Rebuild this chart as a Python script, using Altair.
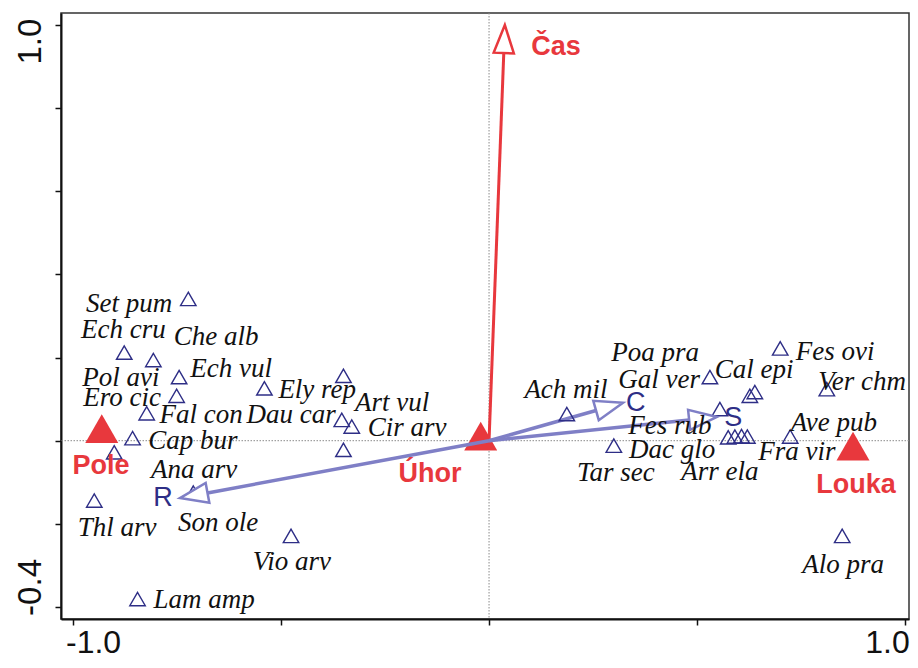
import altair as alt
import pandas as pd
import numpy as np

# ---------------- data ----------------
# species scores (open navy triangles)
species_x = [-0.723, -0.877, -0.807, -0.745, -0.751, -0.823, -0.857, -0.901, -0.949,
             -0.711, -0.476, -0.845, -0.540, -0.350, -0.354, -0.330, -0.350,
             0.187, 0.300, 0.531, 0.627, 0.639, 0.555, 0.575, 0.591, 0.607, 0.621,
             0.700, 0.812, 0.724, 0.849]
species_y = [0.341, 0.212, 0.194, 0.153, 0.108, 0.066, 0.006, -0.028, -0.144,
             -0.125, -0.229, -0.381, 0.126, 0.156, 0.050, 0.034, -0.022,
             0.064, -0.012, 0.153, 0.108, 0.117, 0.076, 0.008, 0.010, 0.011, 0.010,
             0.222, 0.124, 0.010, -0.229]

# species labels and where they sit (data units)
label_names = ["Set pum", "Ech cru", "Che alb", "Ech vul", "Pol avi", "Ero cic", "Fal con",
               "Dau car", "Ely rep", "Art vul", "Cir arv", "Cap bur", "Ana arv", "Thl arv",
               "Son ole", "Vio arv", "Lam amp",
               "Ach mil", "Poa pra", "Gal ver", "Cal epi", "Fes ovi", "Ver chm", "Fes rub",
               "Dac glo", "Tar sec", "Arr ela", "Ave pub", "Fra vir", "Alo pra"]
label_x = [-0.865, -0.879, -0.656, -0.620, -0.885, -0.882, -0.692,
           -0.476, -0.413, -0.233, -0.197, -0.712, -0.709, -0.894,
           -0.651, -0.474, -0.685,
           0.185, 0.399, 0.409, 0.637, 0.832, 0.897, 0.435,
           0.440, 0.305, 0.555, 0.829, 0.740, 0.851]
label_y = [0.329, 0.266, 0.249, 0.173, 0.151, 0.103, 0.062,
           0.062, 0.122, 0.091, 0.031, -0.001, -0.070, -0.210,
           -0.198, -0.292, -0.383,
           0.122, 0.211, 0.146, 0.170, 0.213, 0.141, 0.035,
           -0.022, -0.078, -0.075, 0.043, -0.027, -0.299]

# centroids of the nominal variable (filled red triangles)
centroid_names = ["Pole", "Úhor", "Louka"]
centroid_x = [-0.931, -0.020, 0.875]
centroid_y = [0.029, 0.011, -0.013]
centroid_label_x = [-0.933, -0.142, 0.882]
centroid_label_y = [-0.061, -0.080, -0.107]

# environmental variable arrow (red)
env_names = ["Čas"]
env_x = [0.038]
env_y = [1.000]
env_label_x = [0.161]
env_label_y = [0.948]

# supplementary arrows (blue)
covar_names = ["C", "S", "R"]
covar_x = [0.322, 0.548, -0.743]
covar_y = [0.091, 0.057, -0.138]
covar_label_x = [0.353, 0.587, -0.784]
covar_label_y = [0.091, 0.055, -0.138]

x_ticks = [-1.0, -0.5, 0.0, 0.5, 1.0]
y_ticks = [-0.4, -0.2, 0.0, 0.2, 0.4, 0.6, 0.8, 1.0]

# ---------------- styling / layout ----------------
RED = "#E8383D"
BLUE = "#7F7FC6"
NAVY = "#2E2E86"
XDOM = [-1.029, 1.0096]
YDOM = [-0.429, 1.029]
W, H = 848, 606
HEAD_LEN = 28
HEAD_PATH = "M0,0L-2,-0.72L-2,0.72Z"

xaxis = alt.Axis(
    values=x_ticks, grid=False, title=None,
    labelExpr="datum.value < -0.9 ? '-1.0' : datum.value > 0.9 ? '1.0' : ''",
    domainColor="#111", domainWidth=2, tickColor="#111", tickWidth=1.5, tickSize=6,
    labelFont="Liberation Sans", labelFontSize=32, labelColor="#111", labelPadding=2,
    labelOverlap=False, labelFlush=False, labelBound=False, labelAlign="center",
    labelOffset={"condition": {"test": "datum.value < 0", "value": 20}, "value": -18},
)
yaxis = alt.Axis(
    values=y_ticks, grid=False, title=None,
    labelExpr="datum.value > 0.9 ? '1.0' : datum.value < -0.39 ? '-0.4' : ''",
    domainColor="#111", domainWidth=2, tickColor="#111", tickWidth=1.5, tickSize=6,
    labelFont="Liberation Sans", labelFontSize=33, labelColor="#111", labelPadding=8,
    labelOverlap=False, labelFlush=False, labelBound=False, labelAngle=270,
    labelAlign="center", labelBaseline="bottom",
    labelOffset={"condition": {"test": "datum.value > 0.5", "value": 16}, "value": -20},
)


def X(field):
    return alt.X(f"{field}:Q", scale=alt.Scale(domain=XDOM, nice=False, zero=False), axis=xaxis)


def Y(field):
    return alt.Y(f"{field}:Q", scale=alt.Scale(domain=YDOM, nice=False, zero=False), axis=yaxis)


def arrow_frame(names, xs, ys, lxs, lys):
    kx = W / (XDOM[1] - XDOM[0])
    ky = H / (YDOM[1] - YDOM[0])
    tx, ty = np.array(xs), np.array(ys)
    sx, sy = tx * kx, -ty * ky
    L = np.hypot(sx, sy)
    bx = (sx - sx / L * HEAD_LEN) / kx
    by = -(sy - sy / L * HEAD_LEN) / ky
    ang = np.degrees(np.arctan2(sy, sx)) % 360
    return pd.DataFrame({"name": names, "x": tx, "y": ty, "x0": 0.0, "y0": 0.0,
                         "bx": bx, "by": by, "angle": ang, "lx": lxs, "ly": lys})


species_df = pd.DataFrame({"x": species_x, "y": species_y})
labels_df = pd.DataFrame({"name": label_names, "x": label_x, "y": label_y})
centroid_df = pd.DataFrame({"name": centroid_names, "x": centroid_x, "y": centroid_y,
                            "lx": centroid_label_x, "ly": centroid_label_y})
env_df = arrow_frame(env_names, env_x, env_y, env_label_x, env_label_y)
cov_df = arrow_frame(covar_names, covar_x, covar_y, covar_label_x, covar_label_y)
ref_df = pd.DataFrame({"v": [0.0]})

vline = alt.Chart(ref_df).mark_rule(color="#8a8a8a", strokeWidth=1, strokeDash=[1.5, 1.5]).encode(x=X("v"))
hline = alt.Chart(ref_df).mark_rule(color="#8a8a8a", strokeWidth=1, strokeDash=[1.5, 1.5]).encode(y=Y("v"))

centroids = alt.Chart(centroid_df).mark_point(
    shape="triangle-up", filled=True, size=1089, color=RED, opacity=1, strokeWidth=0
).encode(x=X("x"), y=Y("y"))

env_line = alt.Chart(env_df).mark_rule(color=RED, strokeWidth=3).encode(
    x=X("x0"), y=Y("y0"), x2="bx:Q", y2="by:Q")
cov_line = alt.Chart(cov_df).mark_rule(color=BLUE, strokeWidth=3.5).encode(
    x=X("x0"), y=Y("y0"), x2="bx:Q", y2="by:Q")

species = alt.Chart(species_df).mark_point(
    shape="triangle-up", filled=False, size=240, color=NAVY, opacity=1, strokeWidth=1.4
).encode(x=X("x"), y=Y("y"))

env_head = alt.Chart(env_df).mark_point(
    shape=HEAD_PATH, size=784, filled=True, fill="white", stroke=RED, strokeWidth=2.5,
    opacity=1, fillOpacity=1
).encode(x=X("x"), y=Y("y"), angle=alt.Angle("angle:Q", scale=None))
cov_head = alt.Chart(cov_df).mark_point(
    shape=HEAD_PATH, size=784, filled=True, fill="white", stroke=BLUE, strokeWidth=2.5,
    opacity=1, fillOpacity=1
).encode(x=X("x"), y=Y("y"), angle=alt.Angle("angle:Q", scale=None))

species_text = alt.Chart(labels_df).mark_text(
    font="Liberation Serif", fontStyle="italic", fontSize=27, color="#111",
    align="center", baseline="middle"
).encode(x=X("x"), y=Y("y"), text="name:N")

centroid_text = alt.Chart(centroid_df).mark_text(
    font="Liberation Sans", fontWeight="bold", fontSize=27, color=RED,
    align="center", baseline="middle"
).encode(x=X("lx"), y=Y("ly"), text="name:N")

env_text = alt.Chart(env_df).mark_text(
    font="Liberation Sans", fontWeight="bold", fontSize=27, color=RED,
    align="center", baseline="middle"
).encode(x=X("lx"), y=Y("ly"), text="name:N")

cov_text = alt.Chart(cov_df).mark_text(
    font="Liberation Sans", fontSize=27, color=NAVY, align="center", baseline="middle"
).encode(x=X("lx"), y=Y("ly"), text="name:N")

chart = alt.layer(
    vline, hline, centroids, env_line, cov_line, species, env_head, cov_head,
    species_text, centroid_text, env_text, cov_text
).properties(
    width=W, height=H,
    padding={"left": 53, "top": 5, "right": 1, "bottom": 41},
    autosize="none",
).configure_view(stroke="#333", strokeWidth=1.5)

chart.save("out.html", embed_options={"renderer": "svg", "actions": False})
